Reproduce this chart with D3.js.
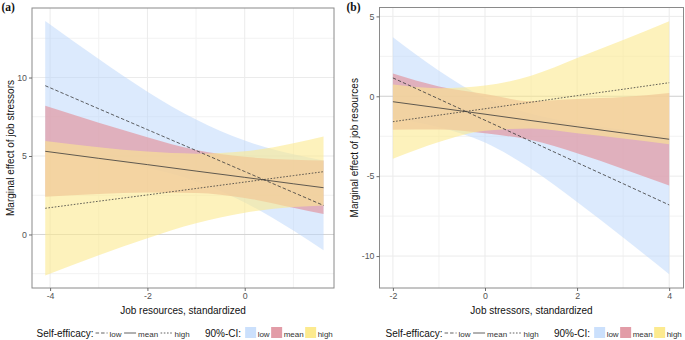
<!DOCTYPE html>
<html>
<head>
<meta charset="utf-8">
<script src="https://cdn.jsdelivr.net/npm/d3@7"></script>
<style>
  html, body { margin: 0; padding: 0; background: #fff; }
  svg { display: block; font-family: "Liberation Sans", Arial, sans-serif; }
</style>
</head>
<body>
<svg id="chart" width="685" height="340"></svg>
<script>
// ---------- Panel (a): x = job resources ----------
const xA = [-4.1, -3, -2, -1, 0, 1, 1.62];
const lowA  = [9.48, 8.01, 6.68, 5.35, 4.01, 2.68, 1.85];
const meanA = [5.30, 4.85, 4.45, 4.04, 3.64, 3.23, 2.98];
const highA = [1.67, 2.12, 2.52, 2.93, 3.34, 3.75, 4.00];
const lowLoA  = [5.36, 4.84, 4.25, 3.38, 2.04, 0.25, -1.00];
const lowHiA  = [13.60, 11.18, 9.10, 7.32, 5.98, 5.11, 4.72];
const meanLoA = [2.40, 2.58, 2.68, 2.64, 2.33, 1.70, 1.30];
const meanHiA = [8.20, 7.12, 6.20, 5.38, 4.95, 4.76, 4.72];
const highLoA = [-2.61, -1.32, -0.24, 0.71, 1.38, 1.75, 1.85];
const highHiA = [5.95, 5.56, 5.28, 5.15, 5.30, 5.82, 6.25];
const xTicksA = [-4, -2, 0];
const yTicksA = [0, 5, 10];

// ---------- Panel (b): x = job stressors ----------
const xB = [-2, -1, 0, 1, 2, 3, 4];
const lowB  = [1.15, -0.17, -1.50, -2.82, -4.15, -5.47, -6.80];
const meanB = [-0.34, -0.73, -1.12, -1.52, -1.91, -2.30, -2.69];
const highB = [-1.59, -1.18, -0.78, -0.37, 0.04, 0.44, 0.85];
const lowLoB  = [-1.39, -1.94, -2.90, -4.54, -6.62, -8.84, -11.14];
const lowHiB  = [3.69, 1.60, -0.10, -1.10, -1.68, -2.10, -2.46];
const meanLoB = [-2.10, -2.08, -2.32, -2.74, -3.57, -4.55, -5.59];
const meanHiB = [1.42, 0.62, 0.15, -0.30, -0.17, -0.05, 0.21];
const highLoB = [-3.91, -2.86, -2.15, -2.02, -2.31, -2.64, -3.00];
const highHiB = [0.73, 0.50, 0.67, 1.28, 2.39, 3.52, 4.70];
const xTicksB = [-2, 0, 2, 4];
const yTicksB = [-10, -5, 0, 5];

const levels = ["low", "mean", "high"];
const bandFill = { low: "#bad6fb", mean: "#e29ca7", high: "#fcea8f" };
const bandOpacity = { low: 0.5, mean: 0.75, high: 0.6 };
const lineDash = { low: "3.5,2", mean: null, high: "1.6,1.6" };

const svg = d3.select("#chart");
svg.append("rect").attr("width", 685).attr("height", 340).attr("fill", "#fff");

function drawPanel(cfg) {
  const g = svg.append("g");
  const x = d3.scaleLinear().domain(cfg.xDomain).range(cfg.xRange);
  const y = d3.scaleLinear().domain(cfg.yDomain).range(cfg.yRange);
  const [x0, x1] = cfg.xRange, [yb, yt] = cfg.yRange;

  // minor grid
  const xMinor = [], yMinor = [];
  const xs = cfg.xTicks, ys = cfg.yTicks;
  const dx = xs[1] - xs[0], dy = ys[1] - ys[0];
  for (let v = xs[0] - dx * 2 + dx / 2; v < xs[xs.length - 1] + dx * 2; v += dx) {
    if (v > cfg.xDomain[0] && v < cfg.xDomain[1]) xMinor.push(v);
  }
  for (let v = ys[0] - dy * 2 + dy / 2; v < ys[ys.length - 1] + dy * 2; v += dy) {
    if (v > cfg.yDomain[0] && v < cfg.yDomain[1]) yMinor.push(v);
  }
  g.selectAll(".vminor").data(xMinor).join("line")
    .attr("x1", d => x(d)).attr("x2", d => x(d)).attr("y1", yb).attr("y2", yt)
    .attr("stroke", "#f2f2f2").attr("stroke-width", 1);
  g.selectAll(".hminor").data(yMinor).join("line")
    .attr("x1", x0).attr("x2", x1).attr("y1", d => y(d)).attr("y2", d => y(d))
    .attr("stroke", "#f2f2f2").attr("stroke-width", 1);
  g.selectAll(".vmajor").data(xs).join("line")
    .attr("x1", d => x(d)).attr("x2", d => x(d)).attr("y1", yb).attr("y2", yt)
    .attr("stroke", "#ebebeb").attr("stroke-width", 1);
  g.selectAll(".hmajor").data(ys).join("line")
    .attr("x1", x0).attr("x2", x1).attr("y1", d => y(d)).attr("y2", d => y(d))
    .attr("stroke", "#ebebeb").attr("stroke-width", 1);
  // zero reference line
  g.append("line").attr("x1", x0).attr("x2", x1).attr("y1", y(0)).attr("y2", y(0))
    .attr("stroke", "#d4d4d4").attr("stroke-width", 1);

  // CI bands
  levels.forEach(lv => {
    const lo = cfg.bands[lv][0], hi = cfg.bands[lv][1];
    const area = d3.area()
      .x((d, i) => x(cfg.xv[i]))
      .y0((d, i) => y(lo[i]))
      .y1((d, i) => y(hi[i]))
      .curve(d3.curveMonotoneX);
    g.append("path").datum(cfg.xv).attr("d", area)
      .attr("fill", bandFill[lv]).attr("fill-opacity", bandOpacity[lv]);
  });
  // estimate lines
  levels.forEach(lv => {
    const vals = cfg.lines[lv];
    const line = d3.line().x((d, i) => x(cfg.xv[i])).y((d, i) => y(vals[i]));
    g.append("path").datum(cfg.xv).attr("d", line)
      .attr("fill", "none").attr("stroke", "#3a3a3a").attr("stroke-width", 0.8)
      .attr("stroke-dasharray", lineDash[lv]);
  });

  // border
  g.append("rect").attr("x", x0).attr("y", yt).attr("width", x1 - x0).attr("height", yb - yt)
    .attr("fill", "none").attr("stroke", "#8a8a8a").attr("stroke-width", 1);

  // axes
  const xAxis = d3.axisBottom(x).tickValues(xs).tickSize(3).tickPadding(2)
    .tickFormat(d => d < 0 ? "-" + Math.abs(d) : String(d));
  const gx = g.append("g").attr("transform", `translate(0,${yb})`).call(xAxis);
  const yAxis = d3.axisLeft(y).tickValues(ys).tickSize(3).tickPadding(2)
    .tickFormat(d => d < 0 ? "-" + Math.abs(d) : String(d));
  const gy = g.append("g").attr("transform", `translate(${x0},0)`).call(yAxis);
  [gx, gy].forEach(a => {
    a.select(".domain").remove();
    a.selectAll(".tick line").attr("stroke", "#6a6a6a");
    a.selectAll(".tick text").attr("fill", "#555").attr("font-size", "8.8px")
      .attr("font-family", "Liberation Sans, Arial, sans-serif");
  });

  // titles
  g.append("text").attr("x", (x0 + x1) / 2).attr("y", 314)
    .attr("text-anchor", "middle").attr("font-size", "10px").attr("fill", "#111")
    .text(cfg.xTitle);
  g.append("text").attr("transform", `translate(${cfg.yTitleX},${(yb + yt) / 2}) rotate(-90)`)
    .attr("text-anchor", "middle").attr("font-size", "10px").attr("fill", "#111")
    .text(cfg.yTitle);
  g.append("text").attr("x", cfg.tagX).attr("y", 10.5)
    .attr("font-family", "Liberation Serif, Times New Roman, serif").attr("font-weight", "bold")
    .attr("font-size", "11.5px").attr("fill", "#111").text(cfg.tag);
}

drawPanel({
  xv: xA,
  xDomain: [-4.372, 1.835], xRange: [32, 334],
  yDomain: [-3.41, 14.43], yRange: [288, 8],
  xTicks: xTicksA, yTicks: yTicksA,
  lines: { low: lowA, mean: meanA, high: highA },
  bands: { low: [lowLoA, lowHiA], mean: [meanLoA, meanHiA], high: [highLoA, highHiA] },
  xTitle: "Job resources, standardized",
  yTitle: "Marginal effect of job stressors",
  yTitleX: 13.5, tag: "(a)", tagX: 1.5
});
drawPanel({
  xv: xB,
  xDomain: [-2.291, 4.311], xRange: [379.5, 683.5],
  yDomain: [-12.0, 5.557], yRange: [288, 7.5],
  xTicks: xTicksB, yTicks: yTicksB,
  lines: { low: lowB, mean: meanB, high: highB },
  bands: { low: [lowLoB, lowHiB], mean: [meanLoB, meanHiB], high: [highLoB, highHiB] },
  xTitle: "Job stressors, standardized",
  yTitle: "Marginal effect of job resources",
  yTitleX: 357.5, tag: "(b)", tagX: 346.5
});

// ---------- Legends ----------
function drawLegend(startX) {
  const g = svg.append("g");
  const base = 336.5;
  let cx = startX;
  const title1 = g.append("text").attr("x", cx).attr("y", base).attr("font-size", "10px")
    .attr("fill", "#111").text("Self-efficacy:");
  cx += title1.node().getComputedTextLength() + 2;
  levels.forEach(lv => {
    g.append("line").attr("x1", cx).attr("x2", cx + 12).attr("y1", base - 3.5).attr("y2", base - 3.5)
      .attr("stroke", "#3a3a3a").attr("stroke-width", 0.8)
      .attr("stroke-dasharray", lineDash[lv]);
    cx += 14;
    const t = g.append("text").attr("x", cx).attr("y", base).attr("font-size", "8px")
      .attr("fill", "#333").text(lv);
    cx += t.node().getComputedTextLength() + 2.5;
  });
  cx = startX + 168.5;
  const title2 = g.append("text").attr("x", cx).attr("y", base).attr("font-size", "10px")
    .attr("fill", "#111").text("90%-CI:");
  cx += title2.node().getComputedTextLength() + 4;
  levels.forEach(lv => {
    g.append("rect").attr("x", cx).attr("y", base - 9.5).attr("width", 11).attr("height", 11)
      .attr("fill", bandFill[lv]).attr("fill-opacity", lv === "low" ? 0.75 : 1);
    cx += 12.5;
    const t = g.append("text").attr("x", cx).attr("y", base).attr("font-size", "8px")
      .attr("fill", "#333").text(lv);
    cx += t.node().getComputedTextLength() + 1.5;
  });
}
drawLegend(36.5);
drawLegend(385.5);
</script>
</body>
</html>
